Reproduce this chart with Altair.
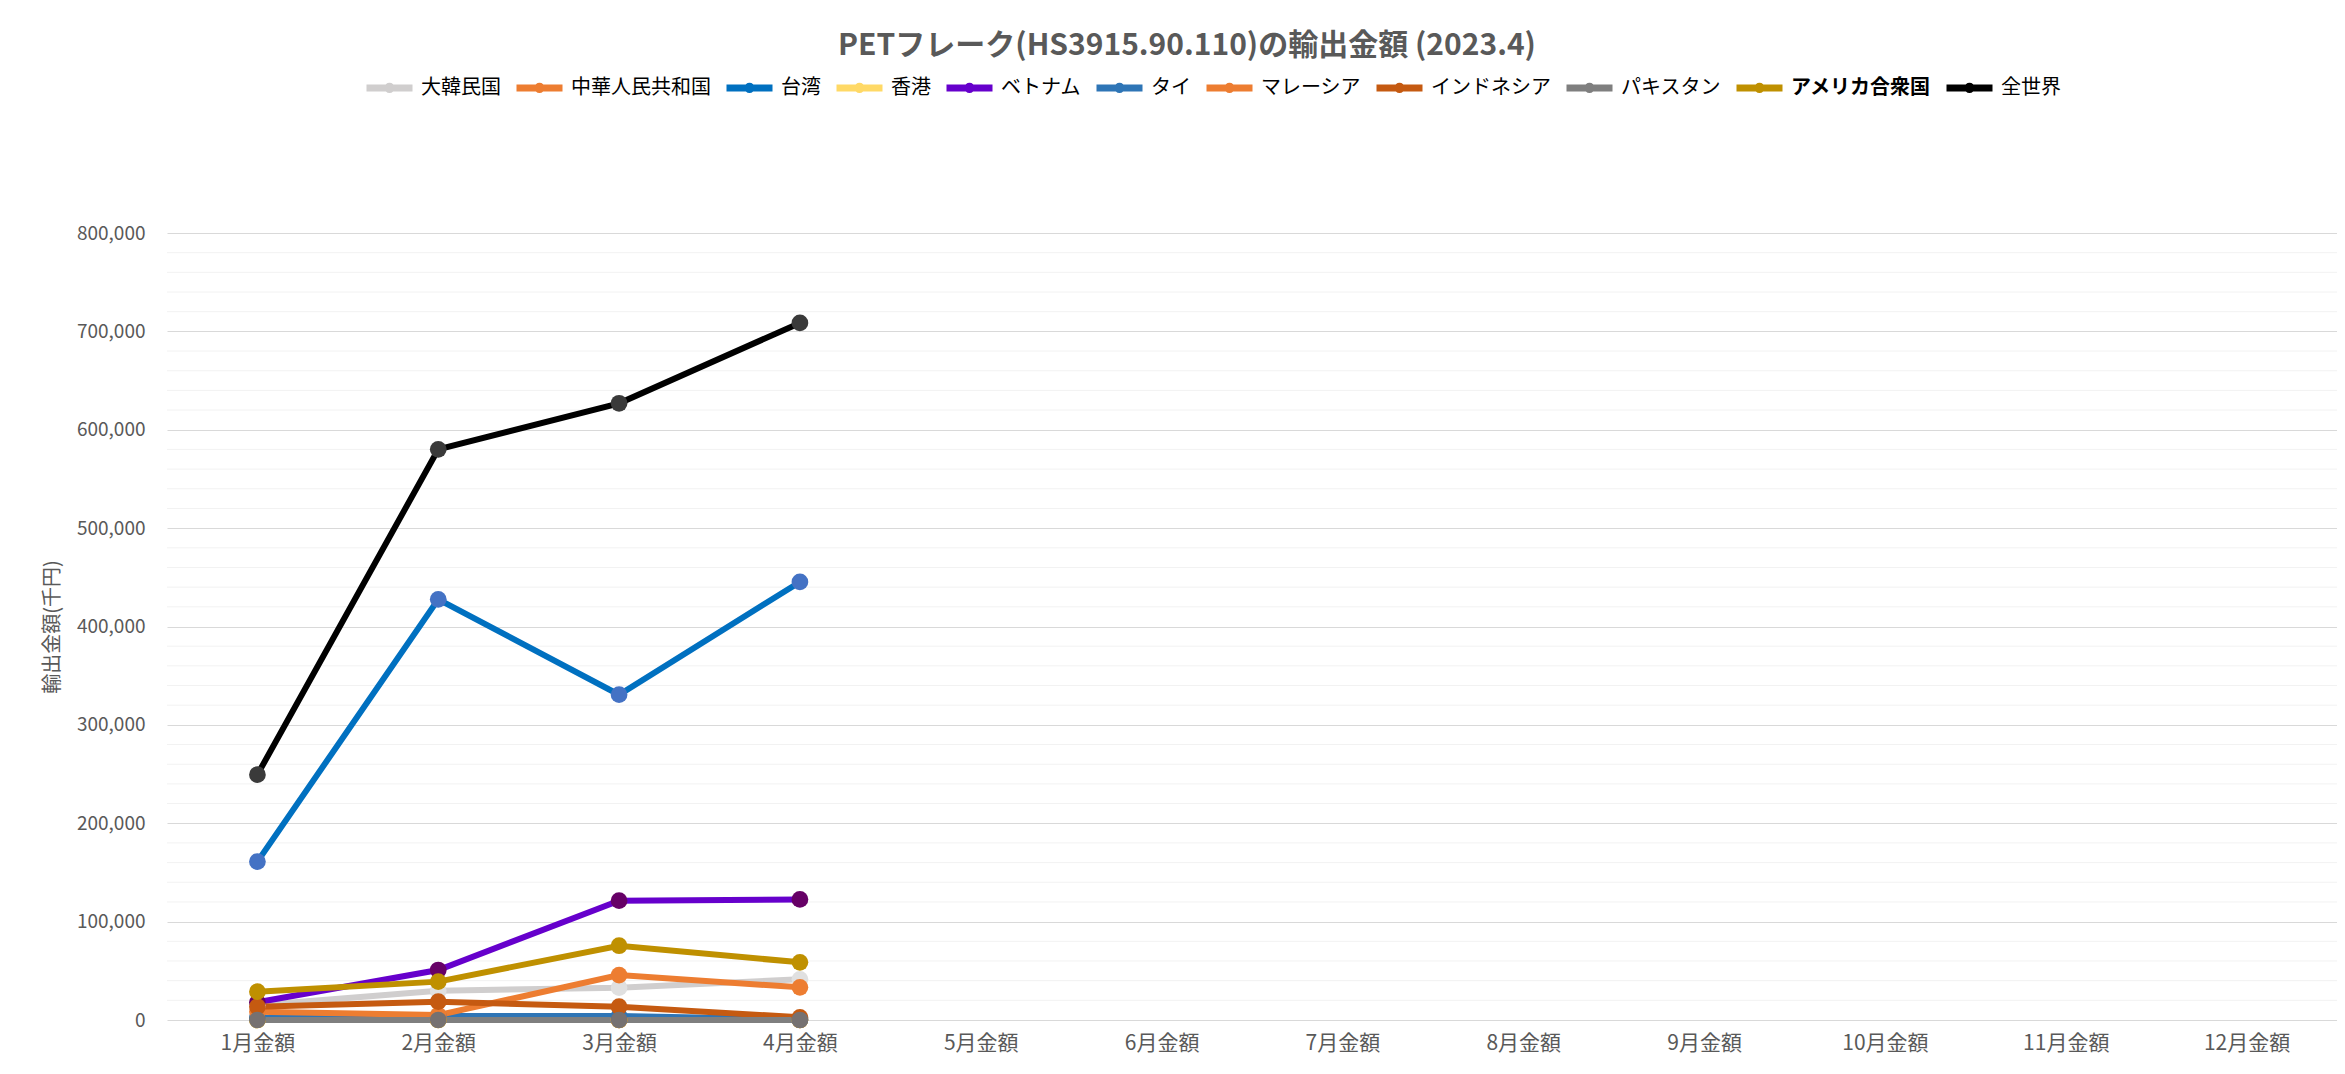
import altair as alt
import pandas as pd

FONT = "Noto Sans CJK JP"

months = ["1月金額", "2月金額", "3月金額", "4月金額", "5月金額", "6月金額",
          "7月金額", "8月金額", "9月金額", "10月金額", "11月金額", "12月金額"]

series = ["大韓民国", "中華人民共和国", "台湾", "香港", "ベトナム", "タイ",
          "マレーシア", "インドネシア", "パキスタン", "アメリカ合衆国", "全世界"]
line_colors = ["#D0CECE", "#ED7D31", "#0070C0", "#FFD966", "#6600CC", "#2E75B6",
               "#ED7D31", "#C55A11", "#7F7F7F", "#BF9000", "#000000"]
marker_colors = ["#E0E0E0", "#ED7D31", "#4472C4", "#FFC000", "#660066", "#2E75B6",
                 "#ED7D31", "#C55A11", "#767171", "#BF9000", "#3A3A3A"]

# values for 1月..4月 (千円)
korea = [15000, 29800, 32900, 41300]
china = [1000, 500, 0, 0]
taiwan = [161000, 427600, 330700, 445300]
hongkong = [0, 0, 0, 0]
vietnam = [18000, 50800, 121300, 122600]
thai = [2000, 4000, 4000, 500]
malaysia = [8500, 5000, 45700, 33200]
indonesia = [13500, 18600, 13500, 2700]
pakistan = [0, 0, 0, 0]
usa = [28800, 39000, 75500, 58600]
world = [249400, 580100, 626900, 708600]

all_values = [korea, china, taiwan, hongkong, vietnam, thai,
              malaysia, indonesia, pakistan, usa, world]

y_ticks = [0, 100000, 200000, 300000, 400000, 500000, 600000, 700000, 800000]
minor_ticks = [20000, 40000, 60000, 80000, 120000, 140000, 160000, 180000,
               220000, 240000, 260000, 280000, 320000, 340000, 360000, 380000,
               420000, 440000, 460000, 480000, 520000, 540000, 560000, 580000,
               620000, 640000, 660000, 680000, 720000, 740000, 760000, 780000]

rows = []
for i, (s, mc, vals) in enumerate(zip(series, marker_colors, all_values)):
    for m, v in zip(months, vals):
        rows.append({"series": s, "month": m, "value": v, "mcolor": mc, "idx": i})
df = pd.DataFrame(rows)
minor_df = pd.DataFrame({"v": minor_ticks})

W, H = 2170, 787

y_scale = alt.Scale(domain=[0, 800000], nice=False)
y_axis = alt.Axis(values=y_ticks, labelExpr="format(datum.value, ',')",
                  title="輸出金額(千円)",
                  titleX=-105, titleY=H / 2, titleFontSize=20,
                  titleFontWeight="normal", titleColor="#595959", titleFont=FONT,
                  labelFontSize=19, labelColor="#595959", labelFont=FONT,
                  labelPadding=22, domain=False, ticks=False,
                  gridColor="#D9D9D9", gridWidth=1.2)

x_enc = alt.X("month:N", sort=months,
              scale=alt.Scale(domain=months, type="point", padding=0.5),
              axis=alt.Axis(title=None, labelAngle=0, domain=False, ticks=False,
                            grid=False, labelFontSize=21, labelColor="#595959",
                            labelFont=FONT, labelPadding=12))

minor = alt.Chart(minor_df).mark_rule(color="#F2F2F2", strokeWidth=1).encode(
    y=alt.Y("v:Q", scale=y_scale, axis=y_axis)
)

legend_symbol = ("M-1,0L1,0"
                 "M0.07,0A0.07,0.07,0,1,1,-0.07,0A0.07,0.07,0,1,1,0.07,0")

lines = alt.Chart(df).mark_line(strokeWidth=6).encode(
    x=x_enc,
    y=alt.Y("value:Q", scale=y_scale, axis=y_axis),
    color=alt.Color("series:N", sort=series,
                    scale=alt.Scale(domain=series, range=line_colors),
                    legend=alt.Legend(title=None, orient="none", legendX=196, legendY=-172,
                                      direction="horizontal", columns=11,
                                      symbolType=legend_symbol, symbolSize=2116,
                                      symbolStrokeWidth=7, labelFontSize=20,
                                      labelFont=FONT, labelColor="#000000",
                                      labelOffset=5, columnPadding=1,
                                      labelFontWeight={"expr": "datum.label == 'アメリカ合衆国' ? 'bold' : 'normal'"})),
    order=alt.Order("idx:Q"),
)

points = alt.Chart(df).mark_circle(size=280, opacity=1).encode(
    x=alt.X("month:N", sort=months),
    y=alt.Y("value:Q", scale=y_scale),
    color=alt.Color("mcolor:N", scale=None),
    order=alt.Order("idx:Q"),
)

chart = alt.layer(minor, lines, points).properties(
    width=W, height=H,
    title=alt.TitleParams(text="PETフレーク(HS3915.90.110)の輸出金額 (2023.4)",
                          fontSize=30, font=FONT, fontWeight="bold", color="#595959",
                          anchor="middle", frame="group", offset=0, dx=-65),
    autosize=alt.AutoSizeParams(type="none"),
    padding={"left": 159, "top": 225, "right": 0, "bottom": 40},
).configure(background="white").configure_view(stroke=None)

chart.save("out.html", embed_options={"renderer": "svg", "actions": False})
